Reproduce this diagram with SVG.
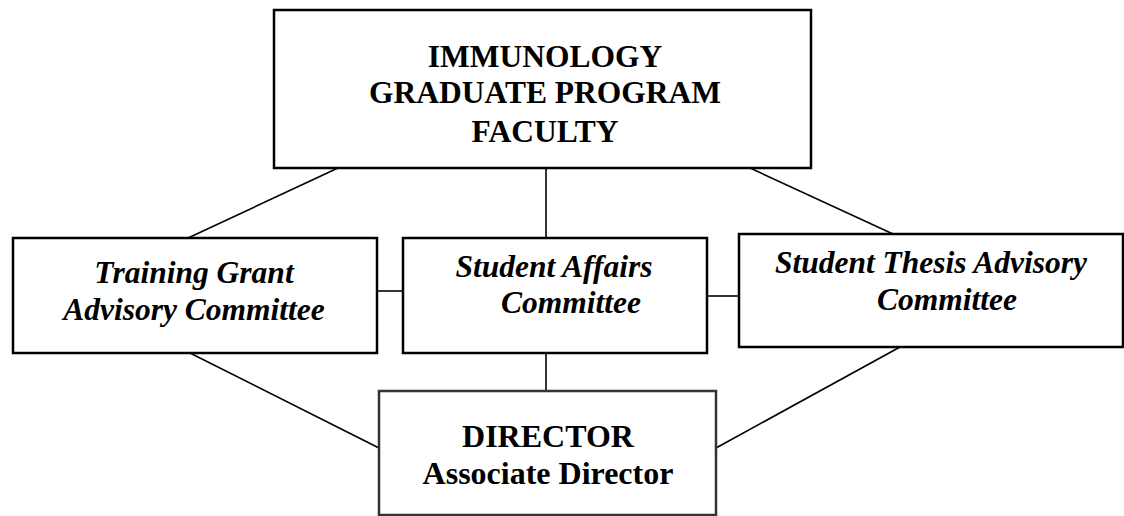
<svg xmlns="http://www.w3.org/2000/svg" width="1124" height="516" viewBox="0 0 1124 516">
<style>
.box{fill:#fff;stroke:#000;stroke-width:2.5}
.dir{fill:#fff;stroke:#333;stroke-width:2.5}
.con{stroke:#000;stroke-width:1.6;fill:none}
</style>
<rect width="1124" height="516" fill="#fff"/>
<g id="connectors">
<line class="con" x1="338" y1="168" x2="188" y2="238"/>
<line class="con" x1="546" y1="168" x2="546" y2="238"/>
<line class="con" x1="750" y1="168" x2="893" y2="234"/>
<line class="con" x1="377" y1="291" x2="403" y2="291"/>
<line class="con" x1="707" y1="296" x2="739" y2="296"/>
<line class="con" x1="190" y1="353" x2="379" y2="448"/>
<line class="con" x1="546" y1="353" x2="546" y2="391"/>
<line class="con" x1="900" y1="347" x2="716" y2="448"/>
</g>
<g font-family="'Liberation Serif', serif" font-size="31.5" font-weight="bold" fill="#000" text-anchor="middle">
<g id="faculty">
<rect class="box" x="274" y="10" width="537" height="158"/>
<text x="545" y="67">IMMUNOLOGY</text>
<text x="545" y="103">GRADUATE PROGRAM</text>
<text x="545" y="142">FACULTY</text>
</g>
<g id="training" font-style="italic">
<rect class="box" x="13" y="238" width="364" height="115"/>
<text x="194" y="283">Training Grant</text>
<text x="194" y="320">Advisory Committee</text>
</g>
<g id="affairs" font-style="italic">
<rect class="box" x="403" y="238" width="304" height="115"/>
<text x="554" y="277">Student Affairs</text>
<text x="571" y="313">Committee</text>
</g>
<g id="thesis" font-style="italic">
<rect class="box" x="739" y="234" width="384" height="113"/>
<text x="931" y="273">Student Thesis Advisory</text>
<text x="947" y="310">Committee</text>
</g>
<g id="director" font-size="32">
<rect class="dir" x="379" y="391" width="337" height="124"/>
<text x="548" y="447">DIRECTOR</text>
<text x="548" y="484">Associate Director</text>
</g>
</g>
</svg>
